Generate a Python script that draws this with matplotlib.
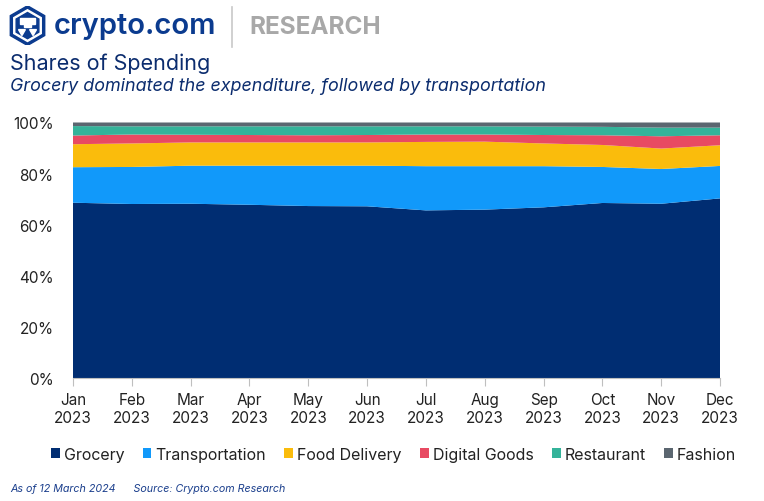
import numpy as np
import matplotlib.pyplot as plt
from matplotlib.patches import RegularPolygon, Rectangle

plt.rcParams['font.family'] = ['Inter', 'DejaVu Sans']

#%% Data (shares of spending, %)
months = ['Jan\n2023', 'Feb\n2023', 'Mar\n2023', 'Apr\n2023', 'May\n2023', 'Jun\n2023',
          'Jul\n2023', 'Aug\n2023', 'Sep\n2023', 'Oct\n2023', 'Nov\n2023', 'Dec\n2023']
grocery = [68.6, 68.1, 68.2, 67.8, 67.3, 67.2, 65.6, 65.9, 66.8, 68.5, 68.2, 70.3]
transportation = [13.9, 14.5, 14.9, 15.3, 15.8, 15.9, 17.3, 17.0, 16.1, 14.1, 13.6, 12.7]
food_delivery = [9.0, 9.2, 9.1, 9.1, 9.1, 9.1, 9.5, 9.6, 8.9, 8.6, 8.0, 8.1]
digital_goods = [3.4, 3.5, 3.0, 2.9, 2.8, 2.9, 2.9, 2.8, 3.3, 3.8, 4.8, 3.9]
restaurant = [3.7, 3.2, 3.3, 3.4, 3.5, 3.4, 3.2, 3.2, 3.3, 3.3, 3.4, 3.0]
fashion = [1.4, 1.5, 1.5, 1.5, 1.5, 1.5, 1.5, 1.5, 1.6, 1.7, 2.0, 2.0]

labels = ['Grocery', 'Transportation', 'Food Delivery', 'Digital Goods', 'Restaurant', 'Fashion']
colors = ['#002D72', '#1199FA', '#FABC0C', '#E84A62', '#34B39A', '#5B6670']

navy = '#0B2C6E'

#%% Figure
fig = plt.figure(figsize=(7.64, 5.02), dpi=100)
ax = fig.add_axes([0.0955, 0.245, 0.847, 0.509])

x = np.arange(len(months))
ax.stackplot(x, grocery, transportation, food_delivery, digital_goods, restaurant, fashion,
             colors=colors, labels=labels, linewidth=0)

ax.set_xlim(0, len(months) - 1)
ax.set_ylim(0, 100)
ax.set_xticks(x)
ax.set_xticklabels(months, fontsize=11, color='#222222', linespacing=1.3)
ax.set_yticks(range(0, 101, 20))
ax.set_yticklabels([f'{v}%' for v in range(0, 101, 20)], fontsize=11, color='#222222')
for s in ['top', 'right', 'left']:
    ax.spines[s].set_visible(False)
ax.spines['bottom'].set_color('#BFBFBF')
ax.tick_params(axis='x', length=6, color='#BFBFBF', pad=4)
ax.tick_params(axis='y', length=0, pad=14)

# legend
handles, lbls = ax.get_legend_handles_labels()
fig.legend(handles, lbls, loc='center', bbox_to_anchor=(0.515, 0.093), ncol=6,
           frameon=False, fontsize=11.5, handlelength=0.55, handleheight=0.55,
           handletextpad=0.25, columnspacing=1.15, labelcolor='#222222')

#%% Header: logo, titles
logo = fig.add_axes([0.010, 0.900, 0.052, 0.094])
logo.set_xlim(-1, 1)
logo.set_ylim(-1, 1)
logo.set_aspect('equal')
logo.axis('off')
logo.add_patch(RegularPolygon((0, 0), 6, radius=1.0, orientation=0, color='#0B3B8F'))
logo.add_patch(RegularPolygon((0, 0), 6, radius=0.80, orientation=0, color='white'))
logo.add_patch(RegularPolygon((0, 0), 6, radius=0.66, orientation=0, color='#0B3B8F'))
logo.add_patch(Rectangle((-0.36, 0.1), 0.72, 0.26, color='white'))
logo.add_patch(Rectangle((-0.18, -0.05), 0.36, 0.15, color='white'))
logo.add_patch(RegularPolygon((-0.28, -0.3), 3, radius=0.2, orientation=np.pi, color='white'))
logo.add_patch(RegularPolygon((0.28, -0.3), 3, radius=0.2, orientation=np.pi, color='white'))

fig.text(0.071, 0.947, 'crypto.com', fontsize=21, fontweight='semibold', color='#0B3B8F',
         va='center', ha='left')
fig.add_artist(plt.Line2D([0.304, 0.304], [0.905, 0.985], color='#C8C8C8', lw=1.2))
fig.text(0.326, 0.945, 'RESEARCH', fontsize=17.5, fontweight='bold', color='#A8A8A8',
         va='center', ha='left')

fig.text(0.013, 0.873, 'Shares of Spending', fontsize=15.5, color=navy, va='center', ha='left')
fig.text(0.013, 0.827, 'Grocery dominated the expenditure, followed by transportation',
         fontsize=12.9, style='italic', color=navy, va='center', ha='left')

fig.text(0.013, 0.026, 'As of 12 March 2024      Source: Crypto.com Research',
         fontsize=7.7, style='italic', color='#1A3E8C', va='center', ha='left')

fig.savefig('out.png', dpi=100)
